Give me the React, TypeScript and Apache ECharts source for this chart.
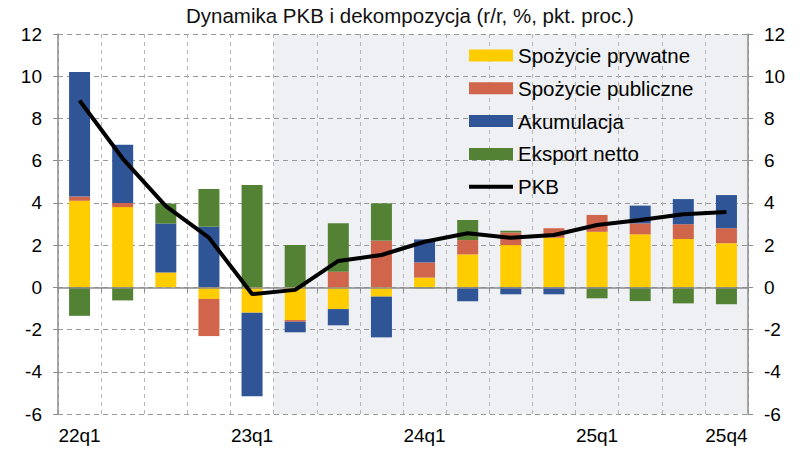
import React, { useEffect, useRef } from "react";
import * as echarts from "echarts";

const categories = ["22q1","22q2","22q3","22q4","23q1","23q2","23q3","23q4","24q1","24q2","24q3","24q4","25q1","25q2","25q3","25q4"];
const labeledQuarters = ["22q1","23q1","24q1","25q1","25q4"];
const forecastStart = "23q2";

const privateConsumption = [4.1, 3.8, 0.7, -0.55, -1.2, -1.55, -1.03, -0.44, 0.46, 1.56, 2.0, 2.35, 2.63, 2.51, 2.29, 2.09];
const publicConsumption = [0.2, 0.2, 0, -1.76, 0, -0.08, 0.74, 2.21, 0.72, 0.68, 0.6, 0.45, 0.8, 0.52, 0.7, 0.71];
const accumulation = [5.9, 2.75, 2.32, 2.87, -3.96, -0.5, -0.77, -1.93, 1.09, -0.66, -0.33, -0.33, 0, 0.84, 1.19, 1.57];
const netExports = [-1.35, -0.62, 0.95, 1.79, 4.85, 2.0, 2.29, 1.77, -0.05, 0.95, 0.08, 0, -0.52, -0.65, -0.76, -0.8];
const gdp = [8.85, 6.1, 3.85, 2.35, -0.32, -0.12, 1.25, 1.53, 2.16, 2.56, 2.35, 2.48, 2.95, 3.19, 3.46, 3.57];

const seriesNames = ["Spożycie prywatne", "Spożycie publiczne", "Akumulacja", "Eksport netto", "PKB"];
const colors = ["#FFCC00", "#D1654B", "#2F5597", "#548235", "#000000"];

const FONT = "'Liberation Sans', Arial, sans-serif";

export default function App() {
  const ref = useRef<HTMLDivElement>(null);
  useEffect(() => {
    if (!ref.current) return;
    const chart = echarts.init(ref.current, null, { renderer: "svg" });
    const stackData = [privateConsumption, publicConsumption, accumulation, netExports];
    const yCommon = {
      type: "value",
      min: -6,
      max: 12,
      interval: 2,
      axisLine: { show: true, lineStyle: { color: "#8c8c8c", width: 1.5 } },
      axisTick: { show: true, length: 5, lineStyle: { color: "#8c8c8c" } },
      axisLabel: { color: "#000", fontSize: 19, fontFamily: FONT, margin: 16 },
      z: 1.5,
    };
    chart.setOption({
      animation: false,
      title: {
        text: "Dynamika PKB i dekompozycja (r/r, %, pkt. proc.)",
        left: 181,
        top: 0,
        textStyle: { color: "#111", fontSize: 20.5, fontWeight: "normal", fontFamily: FONT },
      },
      legend: {
        orient: "vertical",
        left: 464,
        top: 40,
        itemWidth: 44,
        itemHeight: 12,
        itemGap: 11.8,
        data: seriesNames.map((n, i) =>
          i === 4 ? { name: n, icon: "path://M0,0 L44,0 L44,4 L0,4 Z" } : { name: n, icon: "rect" }
        ),
        textStyle: { color: "#000", fontSize: 20.5, fontFamily: FONT },
      },
      grid: { left: 58, right: 52, top: 34, bottom: 42, containLabel: false },
      xAxis: [
        {
          type: "category",
          data: categories,
          position: "bottom",
          axisLine: { show: false, onZero: false },
          axisTick: { show: false },
          axisLabel: {
            interval: (index: number, value: string) => labeledQuarters.includes(value),
            color: "#000",
            fontSize: 19,
            fontFamily: FONT,
            margin: 12,
          },
          splitLine: {
            show: true,
            interval: 0,
            lineStyle: { color: "#b5b5b5", type: [4, 4], width: 1 },
          },
          z: 1.5,
        },
        {
          type: "category",
          data: categories,
          position: "bottom",
          axisLine: { show: true, onZero: true, lineStyle: { color: "#8c8c8c", width: 1.5 } },
          axisTick: { show: true, interval: 0, length: 5, inside: false, lineStyle: { color: "#8c8c8c" } },
          axisLabel: { show: false },
          splitLine: { show: false },
          z: 3,
        },
        {
          type: "value",
          min: 0,
          max: categories.length,
          show: false,
        },
      ],
      yAxis: [
        {
          ...yCommon,
          position: "left",
          splitLine: { show: true, lineStyle: { color: "#999", type: [5, 4], width: 1 } },
        },
        {
          ...yCommon,
          position: "right",
          splitLine: { show: false },
        },
      ],
      series: [
        {
          name: "forecastShade",
          type: "line",
          xAxisIndex: 2,
          yAxisIndex: 0,
          data: [],
          silent: true,
          markArea: {
            silent: true,
            z: 0,
            itemStyle: { color: "#EEF0F3" },
            data: [[{ xAxis: categories.indexOf(forecastStart) }, { xAxis: categories.length }]],
          },
        },
        ...stackData.map((d, i) => ({
          name: seriesNames[i],
          type: "bar",
          stack: "gdp",
          xAxisIndex: 0,
          yAxisIndex: 0,
          barWidth: 21,
          data: d,
          itemStyle: { color: colors[i] },
          z: 2,
        })),
        {
          name: seriesNames[4],
          type: "line",
          xAxisIndex: 0,
          yAxisIndex: 0,
          data: gdp,
          symbol: "none",
          lineStyle: { color: "#000", width: 4 },
          itemStyle: { color: "#000" },
          z: 5,
        },
      ],
    });
    return () => chart.dispose();
  }, []);
  return <div ref={ref} style={{ width: 800, height: 456, position: "absolute", left: 0, top: 0 }} />;
}
